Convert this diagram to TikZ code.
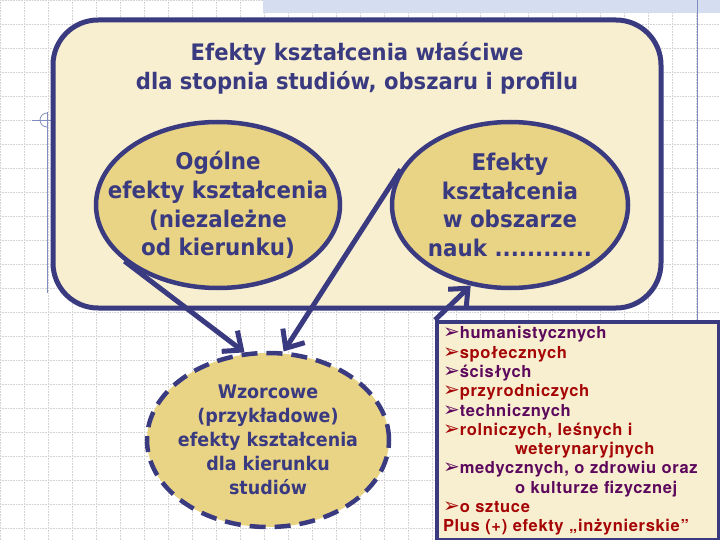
\documentclass[tikz,border=0pt]{standalone}
\usepackage{fontspec}
\usetikzlibrary{shapes.geometric,arrows.meta}
\newfontfamily\tahoma{DejaVu Sans}[FakeStretch=0.93]
\newfontfamily\arialb{TeX Gyre Heros}[LetterSpace=4]
\newfontfamily\dingfont{DejaVu Sans}
\definecolor{granat}{RGB}{58,58,128}
\definecolor{krem}{RGB}{248,238,208}
\definecolor{zloty}{RGB}{233,211,133}
\definecolor{fiolet}{RGB}{92,8,92}
\definecolor{czerwony}{RGB}{165,5,5}
\definecolor{pasek}{RGB}{212,222,240}
\definecolor{linia}{RGB}{128,140,190}
\newcommand{\bul}{{\dingfont\bfseries\fontsize{20}{19.3}\selectfont ➢}}
\begin{document}
\begin{tikzpicture}[x=1pt, y=-1pt,
	elipsa/.style = {ellipse, draw=granat, line width=4.5pt, fill=zloty, inner xsep=-30pt, inner ysep=-6pt, align=center, text=granat, font=\tahoma\bfseries\fontsize{23}{28.7}\selectfont},
	wzor/.style = {elipsa, dash pattern=on 16pt off 9pt, font=\tahoma\bfseries\fontsize{18.8}{24}\selectfont},
	strzalka/.style = {draw=granat, line width=5pt, -{Straight Barb[length=15pt,width=26pt]}},
	gitter/.style = {gray!35, densely dotted, line width=0.6pt}]
	\useasboundingbox (0,0) rectangle (720,540);
	\fill[white] (0,0) rectangle (720,540);
	% tlo
	\draw[gitter, step=24pt] (0,0) grid (720,540);
	\fill[pasek] (263,0) rectangle (720,13);
	\draw[linia, line width=0.8pt] (697,0) -- (697,540);
	\draw[linia, line width=0.8pt] (47,112) -- (47,293);
	\draw[linia, line width=0.8pt] (32,120) -- (53,120);
	\draw[linia, line width=0.8pt] (47,127) arc (90:270:7);
	% ramka
	\draw[granat, fill=krem, line width=5pt, rounded corners=45pt] (53,20) rectangle (661,308);
	\node[text=granat, align=center, font=\tahoma\bfseries\fontsize{22.7}{29}\selectfont] (tytul) at (357,68) {Efekty kształcenia właściwe\\dla stopnia studiów, obszaru i profilu};
	\node[elipsa, minimum width=244, minimum height=166] (ogolne) at (218,205) {Ogólne\\efekty kształcenia\\(niezależne\\od kierunku)};
	\node[elipsa, minimum width=236, minimum height=166] (obszar) at (510,205) {Efekty\\kształcenia\\w obszarze\\nauk ............};
	\node[draw=granat, fill=krem, line width=4pt, anchor=north west, minimum height=218, text width=270, inner xsep=6pt, inner ysep=0pt, align=left, font=\arialb\bfseries\fontsize{16.5}{19.3}\selectfont] (lista) at (435,320) {%
		\textcolor{fiolet}{\bul humanistycznych}\\
		\textcolor{czerwony}{\bul społecznych}\\
		\textcolor{fiolet}{\bul ścisłych}\\
		\textcolor{czerwony}{\bul przyrodniczych}\\
		\textcolor{fiolet}{\bul technicznych}\\
		\textcolor{czerwony}{\bul rolniczych, leśnych i}\\
		\textcolor{czerwony}{\hspace*{72pt}weterynaryjnych}\\
		\textcolor{fiolet}{\bul medycznych, o zdrowiu oraz}\\
		\textcolor{fiolet}{\hspace*{72pt}o kulturze fizycznej}\\
		\textcolor{czerwony}{\bul o sztuce}\\
		\textcolor{czerwony}{Plus (+) efekty „inżynierskie”}};
	\node[wzor, minimum width=242, minimum height=174] (wzorcowe) at (268,440) {Wzorcowe\\(przykładowe)\\efekty kształcenia\\dla kierunku\\studiów};
	% strzalki
	\draw[strzalka] (ogolne.211) -- (wzorcowe.105);
	\draw[strzalka] (obszar.162) -- (wzorcowe.80);
	\draw[strzalka] (lista.north west) -- (obszar.244);
\end{tikzpicture}
\end{document}
